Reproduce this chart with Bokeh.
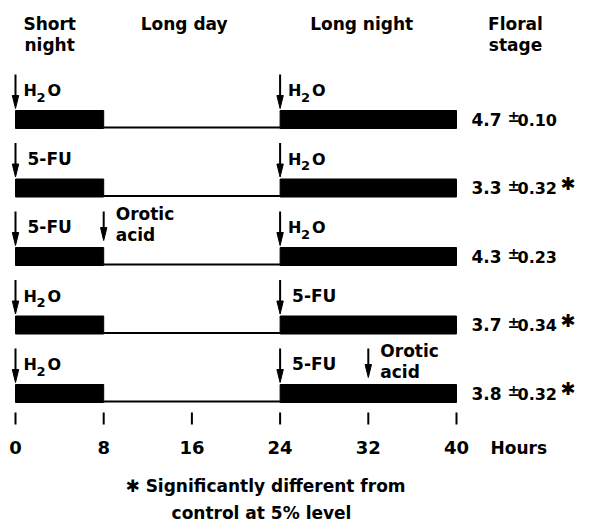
from bokeh.plotting import figure
from bokeh.models import Range1d
from bokeh.core.properties import value
from bokeh.embed import file_html
from bokeh.resources import INLINE

# ---------------- data ----------------
rows = [0, 1, 2, 3, 4]
short_night = (0, 8)
long_day = (8, 24)
long_night = (24, 40)
night1_treatment = ["H2O", "5-FU", "5-FU", "H2O", "H2O"]
night2_treatment = ["H2O", "H2O", "H2O", "5-FU", "5-FU"]
orotic_rows = [2, 4]
orotic_hours = [8, 32]
floral_stage = ["4.7", "3.3", "4.3", "3.7", "3.8"]
floral_se = ["0.10", "0.32", "0.23", "0.34", "0.32"]
significant = [False, True, False, True, True]
hour_ticks = [0, 8, 16, 24, 32, 40]
header_top = ["Short", "Long day", "Long night", "Floral"]
header_bottom = ["night", "", "", "stage"]
header_hours = [3.1, 15.3, 31.4, 45.35]
axis_title = "Hours"
footnote = ["Significantly different from", "control at 5% level"]
STAR = "\u2731"

# ---------------- layout ----------------
W, H = 591, 524
PXH = 11.025          # pixels per hour
X0 = 15               # canvas x of hour 0
PXR = 68.5            # pixels per row
R0 = 119              # canvas y of row 0 centre
FONT = value("DejaVu Sans")
BASE_SHIFT = 0.42     # renderer draws alphabetic text this many em lower


def dy(px):
    return px / PXR


def ypix(canvas_y):
    return (canvas_y - R0) / PXR


def xpix(canvas_x):
    return (canvas_x - X0) / PXH


def dx(px):
    return px / PXH


p = figure(width=W, height=H, output_backend="svg", toolbar_location=None,
           x_range=Range1d(-X0 / PXH, (W - X0) / PXH),
           y_range=Range1d((H - R0) / PXR, -R0 / PXR),
           min_border=0, background_fill_color="white",
           border_fill_color="white")
p.xaxis.visible = False
p.yaxis.visible = False
p.grid.visible = False
p.outline_line_color = None

# thick night bars
bl, br, bt, bb = [], [], [], []
for r in rows:
    for (a, b) in (short_night, long_night):
        bl.append(a); br.append(b)
        bt.append(r - dy(9)); bb.append(r + dy(9))
p.quad(left=bl, right=br, top=bt, bottom=bb, fill_color="black",
       line_color="black", line_width=1)

# thin day line
p.segment(x0=[long_day[0]] * 5, x1=[long_day[1]] * 5,
          y0=[r + dy(8) for r in rows], y1=[r + dy(8) for r in rows],
          line_color="black", line_width=2)

# treatment arrows
arrows = []   # (row, hour, label, kind)
for r in rows:
    arrows.append((r, short_night[0], night1_treatment[r], "main"))
    arrows.append((r, long_night[0], night2_treatment[r], "main"))
for r, h in zip(orotic_rows, orotic_hours):
    arrows.append((r, h, "Orotic acid", "orotic"))

sx0, sx1, sy0, sy1 = [], [], [], []
hx, hy = [], []
for r, h, lab, kind in arrows:
    tip = 11 if kind == "main" else 16
    sx0.append(h); sx1.append(h)
    sy0.append(r - dy(45)); sy1.append(r - dy(tip + 8))
    hx.append([h - dx(3.2), h + dx(3.2), h])
    hy.append([r - dy(tip + 13), r - dy(tip + 13), r - dy(tip)])
p.segment(x0=sx0, x1=sx1, y0=sy0, y1=sy1, line_color="black", line_width=2)
p.patches(xs=hx, ys=hy, fill_color="black", line_color="black", line_width=1)


def txt(x, y, t, size, align="left", xoff=0):
    # y is the wanted baseline (data units)
    p.text(x=[x], y=[y - dy(BASE_SHIFT * size)], text=[t], x_offset=xoff,
           text_font=FONT, text_font_style="bold",
           text_font_size=f"{size}px", text_color="black",
           text_align=align, text_baseline="alphabetic")


for r, h, lab, kind in arrows:
    base = r - dy(22)
    if lab == "H2O":
        txt(h, base, "H", 16, xoff=8)
        txt(h, base + dy(5), "2", 13, xoff=21)
        txt(h, base, "O", 16, xoff=32)
    elif lab == "5-FU":
        txt(h, base, "5-FU", 17, xoff=12)
    else:
        first, second = lab.split(" ")
        txt(h, r - dy(35), first, 17, xoff=12)
        txt(h, r - dy(14), second, 17, xoff=12)

# floral stage values
vx = xpix(471)
for r in rows:
    base = r + dy(7)
    txt(vx, base, floral_stage[r], 17)
    txt(vx, base - dy(3), "\u00b1", 15, xoff=36)
    txt(vx, base, floral_se[r], 16, xoff=46)
    if significant[r]:
        txt(vx, base - dy(4), STAR, 18, xoff=89)

# headers
for h, t1, t2 in zip(header_hours, header_top, header_bottom):
    txt(h, ypix(31), t1, 17, align="center")
    if t2:
        txt(h, ypix(52), t2, 17, align="center")

# hour axis
p.segment(x0=hour_ticks, x1=hour_ticks, y0=[ypix(412)] * 6,
          y1=[ypix(424)] * 6, line_color="black", line_width=2)
for h in hour_ticks:
    txt(h, ypix(455), str(h), 18, align="center")
txt(xpix(490), ypix(455), axis_title, 17)

# footnote
txt(xpix(265), ypix(493), STAR + " " + footnote[0], 17, align="center")
txt(xpix(261), ypix(520), footnote[1], 17, align="center")

open("out.html", "w").write(file_html(p, INLINE))
